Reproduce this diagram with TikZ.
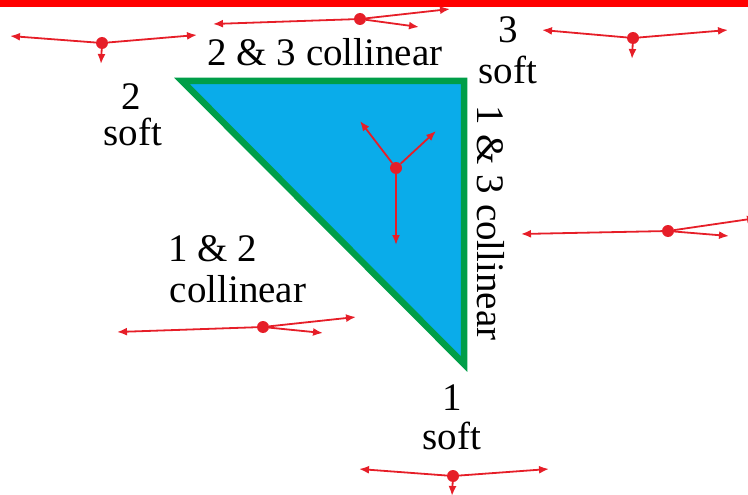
\documentclass[tikz,border=0pt]{standalone}
\usepackage{fontspec}
\setmainfont{Liberation Serif}
\usetikzlibrary{arrows.meta}
\definecolor{barred}{RGB}{255,0,0}
\definecolor{forcered}{RGB}{230,30,40}
\definecolor{triblue}{RGB}{10,172,234}
\definecolor{trigreen}{RGB}{0,158,72}

\begin{document}
\begin{tikzpicture}[
        x=1pt,y=-1pt,
        lbl/.style={font=\fontsize{39}{44}\selectfont,inner sep=0pt,align=center},
        force/.style={-{Latex[length=10pt,width=8pt]},forcered,line width=1.8pt},
        dot/.style={circle,fill=forcered,inner sep=0pt,minimum size=12pt},
        plate/.style={fill=triblue,draw=trigreen,line width=6.5pt,line join=miter}
    ]
        \useasboundingbox (0,0) rectangle (748,495);
        \fill[barred] (0,0) rectangle (748,7);

        % the triangle
        \coordinate (v2) at (182,81);
        \coordinate (v3) at (464,81);
        \coordinate (v1) at (464,364);
        \draw[plate] (v2) -- (v3) -- (v1) -- cycle;

        % labels
        \node[lbl] (l23) at (325,52) {2 \& 3 collinear};
        \node[lbl] (n3) at (508,30) {3};
        \node[lbl] (s3) at (508,70) {soft};
        \node[lbl] (n2) at (131,97) {2};
        \node[lbl] (s2) at (133,132) {soft};
        \node[lbl,rotate=-90] (l13) at (491,223) {1 \& 3 collinear};
        \node[lbl] (l12a) at (213,249) {1 \& 2};
        \node[lbl] (l12b) at (238,289) {collinear};
        \node[lbl] (n1) at (452,398) {1};
        \node[lbl] (s1) at (452,436) {soft};

        % forces, top left
        \node[dot] (fa) at (102,43) {};
        \coordinate (fa-l) at (10,36);
        \coordinate (fa-r) at (197,35);
        \coordinate (fa-d) at (101,64);
        \draw[force] (fa) -- (fa-l);
        \draw[force] (fa) -- (fa-r);
        \draw[force] (fa) -- (fa-d);

        % forces, top middle
        \node[dot] (fb) at (360,19) {};
        \coordinate (fb-l) at (213,24);
        \coordinate (fb-u) at (450,9);
        \coordinate (fb-r) at (419,27);
        \draw[force] (fb) -- (fb-l);
        \draw[force] (fb) -- (fb-u);
        \draw[force] (fb) -- (fb-r);

        % forces, top right
        \node[dot] (fc) at (633,38) {};
        \coordinate (fc-l) at (542,30);
        \coordinate (fc-r) at (728,30);
        \coordinate (fc-d) at (632,59);
        \draw[force] (fc) -- (fc-l);
        \draw[force] (fc) -- (fc-r);
        \draw[force] (fc) -- (fc-d);

        % forces, inside
        \node[dot] (fd) at (396,168) {};
        \coordinate (fd-l) at (360,121);
        \coordinate (fd-r) at (436,131);
        \coordinate (fd-d) at (396,245);
        \draw[force] (fd) -- (fd-l);
        \draw[force] (fd) -- (fd-r);
        \draw[force] (fd) -- (fd-d);

        % forces, lower left
        \node[dot] (fe) at (263,327) {};
        \coordinate (fe-l) at (117,332);
        \coordinate (fe-u) at (356,317);
        \coordinate (fe-r) at (323,333);
        \draw[force] (fe) -- (fe-l);
        \draw[force] (fe) -- (fe-u);
        \draw[force] (fe) -- (fe-r);

        % forces, right
        \node[dot] (ff) at (668,231) {};
        \coordinate (ff-l) at (521,234);
        \coordinate (ff-u) at (757,218);
        \coordinate (ff-r) at (729,236);
        \draw[force] (ff) -- (ff-l);
        \draw[force] (ff) -- (ff-u);
        \draw[force] (ff) -- (ff-r);

        % forces, bottom
        \node[dot] (fg) at (453,476) {};
        \coordinate (fg-l) at (359,469);
        \coordinate (fg-r) at (549,469);
        \coordinate (fg-d) at (452,496);
        \draw[force] (fg) -- (fg-l);
        \draw[force] (fg) -- (fg-r);
        \draw[force] (fg) -- (fg-d);
    \end{tikzpicture}
\end{document}
